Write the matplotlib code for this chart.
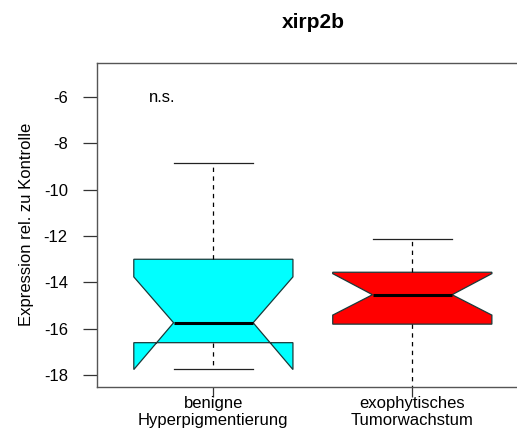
import matplotlib
matplotlib.use("Agg")
import matplotlib.pyplot as plt

plt.rcParams['font.family'] = ['Liberation Sans', 'DejaVu Sans']
plt.rcParams['axes.unicode_minus'] = False

groups = ["benigne\nHyperpigmentierung", "exophytisches\nTumorwachstum"]
colors = ["#00FFFF", "#FF0000"]
med = [-15.74, -14.53]
q1 = [-16.60, -15.80]
q3 = [-13.00, -13.56]
whislo = [-17.73, -19.00]
whishi = [-8.85, -12.13]
cilo = [-17.76, -15.41]
cihi = [-13.76, -13.62]

stats = []
for i in range(len(groups)):
    stats.append(dict(med=med[i], q1=q1[i], q3=q3[i], whislo=whislo[i],
                      whishi=whishi[i], cilo=cilo[i], cihi=cihi[i], fliers=[]))

fig = plt.figure(figsize=(5.17, 4.30), dpi=100)
ax = fig.add_axes([0.1876, 0.1007, 0.835, 0.7533])

bp = ax.bxp(stats, positions=[1, 2], widths=0.8, shownotches=True,
            patch_artist=True, showfliers=False,
            boxprops=dict(edgecolor='#1a3a3a', linewidth=0.9),
            whiskerprops=dict(color='black', linewidth=0.9, linestyle=(0, (3.5, 3.5))),
            capprops=dict(color='#222222', linewidth=0.9),
            medianprops=dict(color='black', linewidth=2.2))
for patch, c in zip(bp['boxes'], colors):
    patch.set_facecolor(c)

ax.set_xlim(0.415, 2.585)
ax.set_ylim(-18.5, -4.52)
ax.set_yticks([-18, -16, -14, -12, -10, -8, -6])
ax.set_xticks([1, 2])
ax.set_xticklabels(groups, fontsize=12, linespacing=1.1)
ax.tick_params(axis='y', labelsize=12, length=10, width=0.9, pad=11, colors='#333333', labelcolor='black')
ax.tick_params(axis='x', length=7, width=0.9, pad=0, colors='#333333', labelcolor='black')
for s in ax.spines.values():
    s.set_color('#555555')
    s.set_linewidth(1.0)

ax.set_ylabel("Expression rel. zu Kontrolle", fontsize=12, labelpad=7)
ax.text(0.745, -6, "n.s.", fontsize=12, ha='center', va='center')
fig.text(313 / 517, 1 - 22 / 430, "xirp2b", fontsize=15, fontweight='bold',
         ha='center', va='center')

fig.savefig("out.png", dpi=100)
